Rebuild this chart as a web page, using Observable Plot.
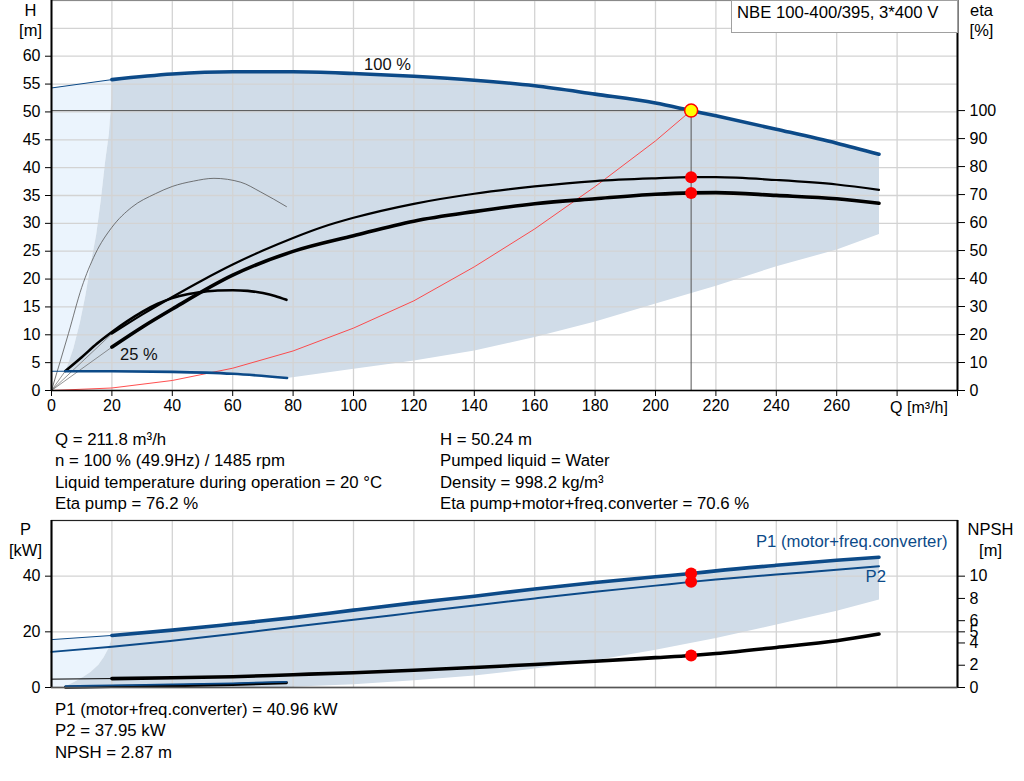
<!DOCTYPE html>
<html>
<head>
<meta charset="utf-8">
<script src="https://cdn.jsdelivr.net/npm/d3@7"></script>
<script src="https://cdn.jsdelivr.net/npm/@observablehq/plot@0.6"></script>
<style>
html,body{margin:0;padding:0;background:#fff;}
#wrap{position:relative;width:1024px;height:781px;overflow:hidden;font-family:"Liberation Sans",Arial,sans-serif;color:#000;}
#wrap svg{position:absolute;left:0;}
.info{position:absolute;font-size:16.8px;line-height:21.3px;white-space:nowrap;}
.legendbox{position:absolute;left:731px;top:0;width:227px;height:33px;border:1px solid #a0a0a0;background:#fff;box-sizing:border-box;font-size:16.7px;line-height:19px;padding:2px 0 0 5px;white-space:nowrap;}
</style>
</head>
<body>
<div id="wrap"></div>
<script>
// ---------- axes / ticks ----------
const qDomain = [0, 300];
const hDomain = [0, 70];
const pDomain = [0, 60];
const qTickValues = [0,20,40,60,80,100,120,140,160,180,200,220,240,260,280,300];
const qTickLabels = ["0","20","40","60","80","100","120","140","160","180","200","220","240","260","",""];
const qAxisLabel = "Q [m³/h]";
const hTickValues = [0,5,10,15,20,25,30,35,40,45,50,55,60];
const hGridValues = [0,5,10,15,20,25,30,35,40,45,50,55,60,65,70];
const etaTickValues = [0,10,20,30,40,50,60,70,80,90,100];
const pTickValues = [0,20,40];
const pGridValues = [20,40];
const npshTickValues = [0,2,4,5,6,8,10];

// ---------- duty point ----------
const dutyQ = 211.8, dutyH = 50.24, dutyEtaPump = 76.2, dutyEtaTot = 70.6;
const dutyP1 = 40.96, dutyP2 = 37.95, dutyNPSH = 2.87;
const etaAtDutyH = 100;          // eta axis: 100 % sits at duty head
const npshAxisTop = 10, pAtNpshTop = 40; // NPSH axis: 10 m sits at 40 kW
const originQ = 0, originV = 0;

// ---------- Q-H curves ----------
const qH100 = [20,40,60,80,100,120,140,160,180,200,211.8,220,240,260,274];
const hH100 = [55.8,56.8,57.2,57.2,56.9,56.4,55.7,54.7,53.2,51.6,50.24,49.3,46.9,44.4,42.4];
const qH100ext = [0,20];
const hH100ext = [54.3,55.8];
const qH25 = [4.6,20,40,60,78];
const hH25 = [3.45,3.45,3.35,3.0,2.25];
const qH25ext = [0,4.6];
const hH25ext = [3.45,3.45];

// operating range boundaries (top)
const qLeftEdge = [4.6,7.2,9.4,11.2,12.9,14.8,16.3,17.8,19.0,19.8,20];
const hLeftEdge = [3.45,7.5,12.2,17.0,22.5,28.0,34.1,41.3,46.1,52.0,55.8];
const qMinEdge = [78,100,120,140,160,180,200,220,240,260,274];
const hMinEdge = [2.25,3.9,5.4,7.2,9.6,12.4,15.6,18.8,22.3,25.3,28.1];

// ---------- efficiency curves (%) ----------
const qEtaPump = [20,30,40,50,60,70,80,90,100,120,140,160,180,200,211.8,220,240,260,274];
const etaPump = [20.3,27.1,33.4,39.4,45.0,50.0,54.5,58.5,61.7,66.7,70.3,72.9,74.8,75.8,76.2,76.2,75.2,73.6,71.7];
const qEtaTot = [20,30,40,60,80,100,120,140,160,180,200,211.8,220,240,260,274];
const etaTot = [15.5,22.6,29.1,41.2,49.7,55.3,60.5,63.9,66.7,68.5,70.1,70.6,70.7,69.7,68.5,66.9];
const qEtaPump25 = [0,5.6,10,14.5,20,26.6,34.4,40,47,53.8,62.7,69.3,77.8];
const etaPump25 = [0,20.3,36.8,48.8,58.3,65.5,70.3,72.9,74.8,75.8,74.4,70.9,65.7];
const qEtaTot25 = [4.6,10,15,20,25,30,35,40,45,50,55,60,65,70,74,77.8];
const etaTot25 = [7.0,11.9,16.7,20.9,24.7,28.1,30.9,33.0,34.4,35.2,35.7,35.8,35.6,34.8,33.8,32.4];

// ---------- system curve ----------
const qSys = [0,20,40,60,80,100,120,140,160,180,200,211.8];
const hSys = [0,0.45,1.8,4.0,7.1,11.2,16.1,22.2,29.0,36.6,44.8,50.24];

// ---------- power / NPSH ----------
const qP1 = [20,40,60,80,100,120,140,160,180,200,211.8,220,240,260,274];
const p1 = [18.7,20.6,22.8,25.1,27.8,30.4,32.8,35.4,37.7,39.8,40.96,41.9,43.9,45.7,46.8];
const qP1ext = [0,20];
const p1ext = [17.2,18.7];
const qP2 = [0,20,40,60,80,100,120,140,160,180,200,211.8,220,240,260,274];
const p2 = [12.8,14.6,16.8,19.2,21.8,24.3,26.9,29.5,32.0,34.4,36.6,37.95,38.8,40.6,42.3,43.6];
const qNpsh = [20,40,60,80,100,120,140,160,180,200,211.8,220,240,260,274];
const npsh = [0.8,0.87,0.97,1.15,1.33,1.55,1.8,2.07,2.36,2.68,2.87,3.05,3.6,4.2,4.8];
const qNpshExt = [0,20];
const npshExt = [0.75,0.8];
const qLow = [4.6,20,40,60,77.8];
const p1Low = [0.45,0.75,1.1,1.5,2.05];
const npshLow = [0.03,0.08,0.16,0.28,0.42];

// operating range boundaries (bottom)
const qPLeftEdge = [4.6,7.4,10.5,12.9,15.5,17.3,18.8,19.6,20];
const pLeftEdge = [0.45,2.0,3.9,5.6,8.2,11.0,14.0,16.5,18.7];
const qPMinEdge = [4.6,77.8,100,120,140,160,180,200,220,240,260,274];
const pMinEdge = [0.2,0.2,1.2,2.6,4.3,6.8,9.8,13.6,17.8,22.6,27.6,31.6];

// ---------- texts ----------
const modelName = "NBE 100-400/395, 3*400 V";
const infoLeft = ["Q = 211.8 m³/h","n = 100 % (49.9Hz) / 1485 rpm","Liquid temperature during operation = 20 °C","Eta pump = 76.2 %"];
const infoRight = ["H = 50.24 m","Pumped liquid = Water","Density = 998.2 kg/m³","Eta pump+motor+freq.converter = 70.6 %"];
const infoBottom = ["P1 (motor+freq.converter) = 40.96 kW","P2 = 37.95 kW","NPSH = 2.87 m"];
const curveLabels = ["100 %","25 %"];

// ---------- helpers ----------
const C = {blue:"#0c4a88", dark:"#d0dce8", light:"#ebf4fd", grid:"#d3d3d3", red:"#ff0000"};
const font = '"Liberation Sans", Arial, sans-serif';
const toH = e => e * dutyH / etaAtDutyH;
const toP = m => m * pAtNpshTop / npshAxisTop;
const pts = (qs, vs, f = v => v) => qs.map((q, i) => ({q, v: f(vs[i])}));
const crv = (qs, vs, opts, f) => Plot.line(pts(qs, vs, f), {x: "q", y: "v", curve: "monotone-x", ...opts});
const origin = {q: originQ, v: originV};

// ---------- TOP CHART ----------
const topLight = [pts(qH25ext, hH25ext)[0], ...pts(qH100ext, hH100ext), ...pts(qLeftEdge, hLeftEdge).reverse()];
const topDark = [...pts(qLeftEdge, hLeftEdge), ...pts(qH100, hH100).slice(1),
                 ...pts(qMinEdge, hMinEdge).reverse(), ...pts(qH25, hH25).reverse()];
const crosshair = [{q: originQ, v: dutyH}, {q: dutyQ, v: dutyH}, {q: dutyQ, v: originV}];
const etaLinks = [[qEtaPump, etaPump], [qEtaTot, etaTot], [qEtaTot25, etaTot25]]
  .map(([qs, es]) => [origin, {q: qs[0], v: toH(es[0])}]);
const h100pts = pts(qH100, hH100), h25pts = pts(qH25, hH25);

const topPlot = Plot.plot({
  width: 1024, height: 420,
  marginLeft: 51, marginRight: 67, marginTop: 0, marginBottom: 30,
  x: {domain: qDomain, axis: null},
  y: {domain: hDomain, axis: null},
  style: {fontFamily: font, fontSize: "16px", color: "#000", background: "transparent", overflow: "visible"},
  marks: [
    Plot.line(topLight, {x: "q", y: "v", fill: C.light, stroke: "none"}),
    Plot.line(topDark, {x: "q", y: "v", fill: C.dark, stroke: "none"}),
    Plot.gridX(qTickValues, {stroke: C.grid, strokeOpacity: 1, strokeWidth: 1.3}),
    Plot.gridY(hGridValues, {stroke: C.grid, strokeOpacity: 1, strokeWidth: 1.3}),
    Plot.frame({stroke: "#8a8a8a"}),
    // system curve
    Plot.line(pts(qSys, hSys), {x: "q", y: "v", stroke: "#ff3b3b", strokeWidth: 0.9}),
    // thin links from origin
    ...etaLinks.map(d => Plot.line(d, {x: "q", y: "v", stroke: "#666", strokeWidth: 0.7})),
    // eta curves
    crv(qEtaPump25, etaPump25, {stroke: "#555", strokeWidth: 0.8}, toH),
    crv(qEtaTot25, etaTot25, {stroke: "#000", strokeWidth: 2.6}, toH),
    crv(qEtaPump, etaPump, {stroke: "#000", strokeWidth: 2.2}, toH),
    crv(qEtaTot, etaTot, {stroke: "#000", strokeWidth: 3.6}, toH),
    // H curves
    crv(qH100ext, hH100ext, {stroke: C.blue, strokeWidth: 1}),
    crv(qH100, hH100, {stroke: C.blue, strokeWidth: 3.6}),
    crv(qH25ext, hH25ext, {stroke: C.blue, strokeWidth: 1}),
    crv(qH25, hH25, {stroke: C.blue, strokeWidth: 2.6}),
    // duty crosshair
    Plot.line(crosshair, {x: "q", y: "v", stroke: "#555", strokeWidth: 1}),
    // axis lines
    Plot.ruleX([qDomain[0]], {stroke: "#000", strokeWidth: 2}),
    Plot.ruleX([qDomain[1]], {stroke: "#000", strokeWidth: 2}),
    Plot.ruleY([hDomain[0]], {stroke: "#000", strokeWidth: 1.5}),
    // duty dots
    Plot.dot([{q: dutyQ, v: toH(dutyEtaPump)}, {q: dutyQ, v: toH(dutyEtaTot)}], {x: "q", y: "v", r: 6, fill: C.red, stroke: "none"}),
    Plot.dot([{q: dutyQ, v: dutyH}], {x: "q", y: "v", r: 6.5, fill: "#ffff00", stroke: C.red, strokeWidth: 1.5}),
    // curve labels
    Plot.text([h100pts[4]], {x: "q", y: "v", text: () => curveLabels[0], dx: 34, dy: -9, fontSize: 16.5, fill: "#111"}),
    Plot.text([h25pts[1]], {x: "q", y: "v", text: () => curveLabels[1], dx: 27, dy: -17, fontSize: 16.5, fill: "#111"}),
    // axes
    Plot.axisX(qTickValues, {anchor: "bottom", tickSize: 6, tickPadding: 3, label: null, fontSize: 16,
      tickFormat: d => qTickLabels[qTickValues.indexOf(d)]}),
    Plot.text([qTickValues[14]], {x: d => d, frameAnchor: "bottom", dy: 17, dx: -7, textAnchor: "start", lineAnchor: "middle", text: () => qAxisLabel, fontSize: 16}),
    Plot.axisY(hTickValues, {anchor: "left", tickSize: 6, tickPadding: 5, label: null, fontSize: 16}),
    Plot.axisY(etaTickValues.map(toH), {anchor: "right", tickSize: 7, tickPadding: 5, label: null, fontSize: 16,
      tickFormat: d => String(Math.round(d * etaAtDutyH / dutyH))}),
    Plot.text(["H"], {frameAnchor: "top-left", dx: -21, dy: 10, text: d => d, textAnchor: "middle", lineAnchor: "middle", fontSize: 16.5}),
    Plot.text(["[m]"], {frameAnchor: "top-left", dx: -21, dy: 30, text: d => d, textAnchor: "middle", lineAnchor: "middle", fontSize: 16.5}),
    Plot.text(["eta"], {frameAnchor: "top-right", dx: 24, dy: 10, text: d => d, textAnchor: "middle", lineAnchor: "middle", fontSize: 16.5}),
    Plot.text(["[%]"], {frameAnchor: "top-right", dx: 24, dy: 30, text: d => d, textAnchor: "middle", lineAnchor: "middle", fontSize: 16.5})
  ]
});
topPlot.style.top = "0px";

// ---------- BOTTOM CHART ----------
const botLight = [origin, ...pts(qP1ext, p1ext), ...pts(qPLeftEdge, pLeftEdge).reverse()];
const botDark = [...pts(qPLeftEdge, pLeftEdge), ...pts(qP1, p1).slice(1), ...pts(qPMinEdge, pMinEdge).reverse()];

const botPlot = Plot.plot({
  width: 1024, height: 190,
  marginLeft: 51, marginRight: 67, marginTop: 20, marginBottom: 3,
  x: {domain: qDomain, axis: null},
  y: {domain: pDomain, axis: null},
  style: {fontFamily: font, fontSize: "16px", color: "#000", background: "transparent", overflow: "visible"},
  marks: [
    Plot.line(botLight, {x: "q", y: "v", fill: C.light, stroke: "none"}),
    Plot.line(botDark, {x: "q", y: "v", fill: C.dark, stroke: "none"}),
    Plot.gridX(qTickValues, {stroke: C.grid, strokeOpacity: 1, strokeWidth: 1.3}),
    Plot.gridY(pGridValues, {stroke: C.grid, strokeOpacity: 1, strokeWidth: 1.3}),
    Plot.frame({stroke: "#222", strokeWidth: 1.2}),
    // low speed
    crv(qLow, npshLow, {stroke: "#000", strokeWidth: 3}, toP),
    crv(qLow, p1Low, {stroke: C.blue, strokeWidth: 1.8}),
    // NPSH
    crv(qNpshExt, npshExt, {stroke: "#000", strokeWidth: 1}, toP),
    crv(qNpsh, npsh, {stroke: "#000", strokeWidth: 3.6}, toP),
    // P2, P1
    crv(qP2, p2, {stroke: C.blue, strokeWidth: 2}),
    crv(qP1ext, p1ext, {stroke: C.blue, strokeWidth: 1}),
    crv(qP1, p1, {stroke: C.blue, strokeWidth: 3.6}),
    Plot.ruleX([qDomain[0]], {stroke: "#000", strokeWidth: 2}),
    Plot.ruleX([qDomain[1]], {stroke: "#000", strokeWidth: 2}),
    Plot.ruleY([pDomain[0]], {stroke: "#555", strokeWidth: 1.5}),
    Plot.dot([{q: dutyQ, v: dutyP1}, {q: dutyQ, v: dutyP2}, {q: dutyQ, v: toP(dutyNPSH)}], {x: "q", y: "v", r: 6, fill: C.red, stroke: "none"}),
    Plot.axisY(pTickValues, {anchor: "left", tickSize: 6, tickPadding: 5, label: null, fontSize: 16}),
    Plot.axisY(npshTickValues.map(toP), {anchor: "right", tickSize: 7, tickPadding: 5, label: null, fontSize: 16,
      tickFormat: d => String(Math.round(d * npshAxisTop / pAtNpshTop))}),
    Plot.text(["P"], {frameAnchor: "top-left", dx: -26, dy: 9, text: d => d, textAnchor: "middle", lineAnchor: "middle", fontSize: 16.5}),
    Plot.text(["[kW]"], {frameAnchor: "top-left", dx: -26, dy: 30, text: d => d, textAnchor: "middle", lineAnchor: "middle", fontSize: 16.5}),
    Plot.text(["NPSH"], {frameAnchor: "top-right", dx: 33, dy: 9, text: d => d, textAnchor: "middle", lineAnchor: "middle", fontSize: 16.5}),
    Plot.text(["[m]"], {frameAnchor: "top-right", dx: 33, dy: 30, text: d => d, textAnchor: "middle", lineAnchor: "middle", fontSize: 16.5}),
    Plot.text(["P1 (motor+freq.converter)"], {frameAnchor: "top-right", dx: -10, dy: 21, text: d => d, textAnchor: "end", lineAnchor: "middle", fontSize: 16.7, fill: C.blue}),
    Plot.text(["P2"], {frameAnchor: "top-right", dx: -92, dy: 56, text: d => d, textAnchor: "start", lineAnchor: "middle", fontSize: 16.7, fill: C.blue})
  ]
});
botPlot.style.top = "500px";

// ---------- assemble ----------
const wrap = document.getElementById("wrap");
wrap.appendChild(topPlot);
wrap.appendChild(botPlot);
const addInfo = (lines, left, top) => {
  const d = document.createElement("div");
  d.className = "info";
  d.style.left = left + "px";
  d.style.top = top + "px";
  d.innerHTML = lines.map(s => `<div>${s}</div>`).join("");
  wrap.appendChild(d);
};
addInfo(infoLeft, 55, 429);
addInfo(infoRight, 440, 429);
addInfo(infoBottom, 55, 699);
const box = document.createElement("div");
box.className = "legendbox";
box.textContent = modelName;
wrap.appendChild(box);
</script>
</body>
</html>
